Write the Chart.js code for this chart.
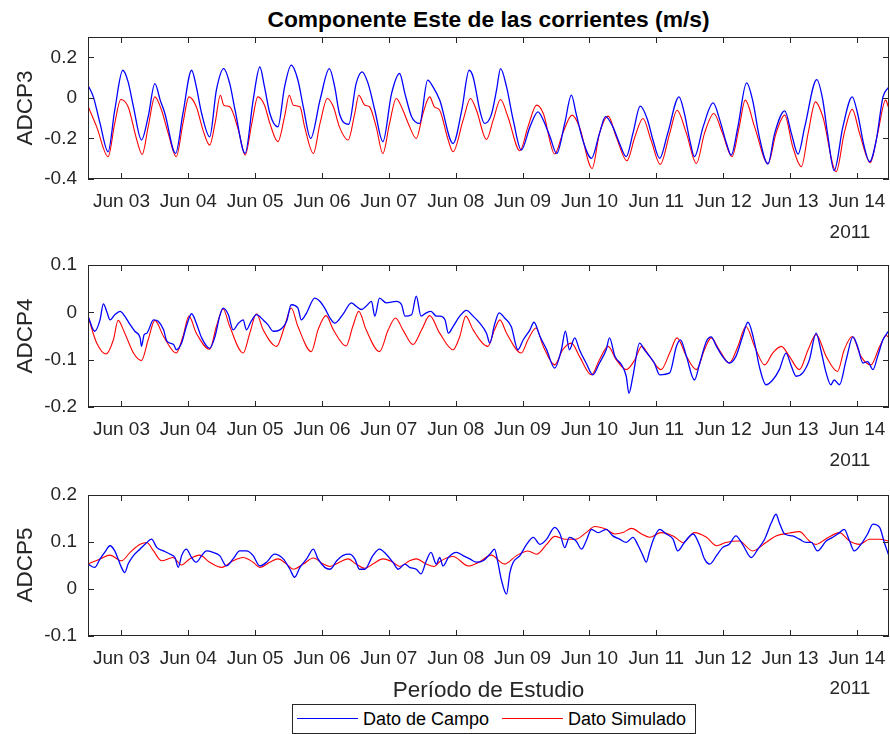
<!DOCTYPE html>
<html>
<head>
<meta charset="utf-8">
<script src="https://cdn.jsdelivr.net/npm/chart.js@4.4.1/dist/chart.umd.min.js"></script>
<style>
  body { margin: 0; background: #fff; }
  #fig { position: relative; width: 890px; height: 734px; overflow: hidden; font-family: "Liberation Sans", Arial, sans-serif; color: #262626; }
  canvas { position: absolute; left: 0; }
  .txt { position: absolute; white-space: nowrap; }
  .ylab { position: absolute; width: 160px; height: 28px; line-height: 28px; text-align: center; font-size: 22.5px; transform: rotate(-90deg); }
  .yr { position: absolute; font-size: 19px; width: 60px; text-align: center; line-height: 22px; }
  #legend { position: absolute; left: 292px; top: 704px; width: 402px; height: 28px; border: 1px solid #262626; background: #fff; font-size: 18px; }
  #legend .ln { position: absolute; top: 13px; height: 0; width: 61px; border-top: 1.3px solid; }
  #legend span { position: absolute; top: 4px; line-height: 20px; color: #000; }
</style>
</head>
<body>
<div id="fig">
  <div class="txt" style="left:88px; width:801px; top:6px; line-height:26px; text-align:center; font-weight:bold; font-size:22.8px; color:#000;">Componente Este de las corrientes (m/s)</div>

  <canvas id="c1" width="890" height="203" style="top:22px"></canvas>
  <canvas id="c2" width="890" height="203" style="top:250px"></canvas>
  <canvas id="c3" width="890" height="202" style="top:480px"></canvas>

  <div class="ylab" style="left:-55px; top:94px;">ADCP3</div>
  <div class="ylab" style="left:-55px; top:322px;">ADCP4</div>
  <div class="ylab" style="left:-55px; top:551px;">ADCP5</div>

  <div class="yr" style="left:820px; top:221px;">2011</div>
  <div class="yr" style="left:820px; top:449px;">2011</div>
  <div class="yr" style="left:820px; top:677px;">2011</div>

  <div class="txt" style="left:88px; width:801px; top:677px; line-height:26px; text-align:center; font-size:22.5px;">Período de Estudio</div>

  <div id="legend">
    <div class="ln" style="left:4px; border-color:#0000ff;"></div>
    <span style="left:70px;">Dato de Campo</span>
    <div class="ln" style="left:209px; border-color:#ff0000;"></div>
    <span style="left:275px;">Dato Simulado</span>
  </div>
</div>

<script>
// time axis: day of June 2011
const xMin = 2.5;
const xMax = 14.48;
const dayTicks = [3, 4, 5, 6, 7, 8, 9, 10, 11, 12, 13, 14];
const dayLabels = ["Jun 03", "Jun 04", "Jun 05", "Jun 06", "Jun 07", "Jun 08", "Jun 09", "Jun 10", "Jun 11", "Jun 12", "Jun 13", "Jun 14"];

const yTicks3 = [-0.4, -0.2, 0, 0.2];
const yTicks4 = [-0.2, -0.1, 0, 0.1];
const yTicks5 = [-0.1, 0, 0.1, 0.2];

// [day, m/s]
const adcp3Campo = [[2.50,0.062],[2.58,0.005],[2.68,-0.126],[2.80,-0.266],[2.90,-0.061],[3.02,0.136],[3.10,0.079],[3.18,-0.044],[3.30,-0.208],[3.40,-0.093],[3.50,0.070],[3.58,-0.011],[3.65,-0.077],[3.81,-0.274],[3.92,-0.077],[4.05,0.136],[4.12,0.054],[4.20,-0.077],[4.32,-0.192],[4.42,0.038],[4.53,0.144],[4.62,0.070],[4.70,-0.061],[4.85,-0.274],[4.97,-0.011],[5.07,0.152],[5.14,0.054],[5.22,-0.077],[5.34,-0.143],[5.44,0.054],[5.54,0.161],[5.64,0.087],[5.72,-0.044],[5.83,-0.200],[5.97,-0.011],[6.11,0.144],[6.19,0.054],[6.26,-0.077],[6.40,-0.130],[6.51,0.070],[6.60,0.128],[6.69,0.070],[6.79,-0.061],[6.91,-0.216],[7.04,0.021],[7.16,0.120],[7.24,0.021],[7.34,-0.093],[7.46,-0.126],[7.58,0.087],[7.66,0.054],[7.76,-0.011],[7.96,-0.225],[8.09,-0.061],[8.20,0.136],[8.26,0.103],[8.36,-0.061],[8.43,-0.126],[8.53,-0.085],[8.61,0.038],[8.67,0.144],[8.76,0.054],[8.86,-0.110],[8.98,-0.257],[9.11,-0.143],[9.23,-0.069],[9.31,-0.110],[9.41,-0.192],[9.51,-0.274],[9.63,-0.126],[9.73,0.013],[9.80,-0.077],[9.90,-0.208],[10.03,-0.298],[10.15,-0.175],[10.24,-0.093],[10.35,-0.143],[10.45,-0.225],[10.55,-0.290],[10.65,-0.175],[10.76,-0.041],[10.87,-0.110],[10.95,-0.208],[11.05,-0.298],[11.17,-0.175],[11.34,0.005],[11.42,-0.077],[11.50,-0.208],[11.57,-0.290],[11.70,-0.143],[11.85,-0.025],[11.95,-0.110],[12.05,-0.225],[12.12,-0.282],[12.22,-0.143],[12.35,0.074],[12.44,-0.011],[12.54,-0.192],[12.67,-0.326],[12.77,-0.175],[12.92,-0.064],[13.02,-0.175],[13.12,-0.277],[13.22,-0.143],[13.40,0.090],[13.49,-0.011],[13.56,-0.175],[13.66,-0.359],[13.79,-0.143],[13.93,0.005],[14.01,-0.077],[14.11,-0.241],[14.19,-0.315],[14.29,-0.208],[14.39,0.005],[14.47,0.051]];

const adcp3Sim = [[2.50,-0.041],[2.63,-0.143],[2.80,-0.290],[2.90,-0.126],[2.99,-0.008],[3.10,-0.044],[3.23,-0.208],[3.31,-0.279],[3.40,-0.143],[3.50,0.005],[3.60,-0.061],[3.70,-0.175],[3.82,-0.290],[3.92,-0.126],[4.01,0.005],[4.12,-0.044],[4.22,-0.159],[4.32,-0.233],[4.40,-0.126],[4.48,0.013],[4.53,-0.036],[4.62,-0.044],[4.75,-0.159],[4.85,-0.282],[4.95,-0.126],[5.04,0.005],[5.14,-0.036],[5.22,-0.126],[5.34,-0.216],[5.44,-0.093],[5.51,0.013],[5.57,-0.036],[5.67,-0.044],[5.74,-0.143],[5.87,-0.274],[5.97,-0.126],[6.08,-0.003],[6.17,-0.044],[6.26,-0.143],[6.39,-0.208],[6.49,-0.077],[6.55,0.013],[6.64,-0.036],[6.71,-0.044],[6.81,-0.143],[6.91,-0.274],[7.01,-0.126],[7.11,-0.003],[7.21,-0.061],[7.29,-0.126],[7.41,-0.200],[7.51,-0.077],[7.61,0.005],[7.68,-0.044],[7.76,-0.061],[7.88,-0.200],[7.96,-0.266],[8.11,-0.110],[8.22,-0.003],[8.31,-0.061],[8.46,-0.205],[8.56,-0.110],[8.67,-0.008],[8.78,-0.093],[8.96,-0.261],[9.08,-0.143],[9.21,-0.036],[9.31,-0.077],[9.48,-0.277],[9.60,-0.175],[9.74,-0.085],[9.85,-0.143],[10.04,-0.348],[10.15,-0.175],[10.28,-0.090],[10.40,-0.192],[10.56,-0.310],[10.68,-0.192],[10.80,-0.102],[10.92,-0.208],[11.06,-0.328],[11.20,-0.175],[11.31,-0.061],[11.45,-0.175],[11.60,-0.323],[11.72,-0.175],[11.86,-0.077],[11.99,-0.175],[12.13,-0.290],[12.24,-0.143],[12.33,-0.011],[12.47,-0.143],[12.67,-0.323],[12.79,-0.175],[12.92,-0.085],[13.04,-0.241],[13.17,-0.339],[13.27,-0.175],[13.38,-0.020],[13.49,-0.093],[13.69,-0.364],[13.81,-0.175],[13.93,-0.057],[14.04,-0.175],[14.20,-0.320],[14.31,-0.175],[14.43,-0.011],[14.47,-0.044]];

const adcp4Campo = [[2.50,-0.008],[2.60,-0.040],[2.68,-0.016],[2.73,0.018],[2.78,0.002],[2.83,-0.016],[2.90,-0.005],[2.98,0.002],[3.05,-0.008],[3.13,-0.026],[3.20,-0.040],[3.28,-0.054],[3.30,-0.072],[3.34,-0.047],[3.38,-0.044],[3.48,-0.016],[3.55,-0.019],[3.63,-0.037],[3.68,-0.061],[3.78,-0.068],[3.82,-0.079],[3.90,-0.065],[3.97,-0.030],[4.05,-0.003],[4.12,-0.023],[4.20,-0.054],[4.32,-0.076],[4.40,-0.051],[4.47,-0.008],[4.52,0.009],[4.60,-0.005],[4.67,-0.037],[4.75,-0.023],[4.82,-0.016],[4.87,-0.037],[4.94,-0.019],[5.02,-0.005],[5.12,-0.016],[5.19,-0.026],[5.27,-0.040],[5.37,-0.037],[5.47,-0.019],[5.54,0.016],[5.64,0.009],[5.69,-0.016],[5.77,-0.001],[5.89,0.030],[5.97,0.023],[6.04,0.009],[6.12,-0.012],[6.19,-0.023],[6.31,-0.005],[6.44,0.020],[6.51,0.013],[6.59,0.006],[6.66,0.013],[6.74,0.023],[6.79,-0.008],[6.86,0.030],[6.96,0.020],[7.11,0.023],[7.19,0.016],[7.24,-0.008],[7.34,-0.005],[7.41,0.034],[7.48,-0.008],[7.56,-0.001],[7.63,0.002],[7.71,-0.008],[7.76,-0.008],[7.84,-0.016],[7.89,-0.044],[7.96,-0.030],[8.06,-0.008],[8.16,0.004],[8.26,-0.008],[8.36,-0.023],[8.46,-0.044],[8.51,-0.065],[8.58,-0.026],[8.65,-0.001],[8.73,-0.012],[8.83,-0.030],[8.93,-0.079],[9.01,-0.058],[9.11,-0.037],[9.17,-0.021],[9.26,-0.051],[9.36,-0.079],[9.48,-0.118],[9.58,-0.079],[9.64,-0.040],[9.70,-0.079],[9.78,-0.054],[9.85,-0.079],[9.95,-0.107],[10.05,-0.132],[10.15,-0.107],[10.25,-0.079],[10.30,-0.054],[10.38,-0.093],[10.48,-0.111],[10.55,-0.135],[10.59,-0.171],[10.65,-0.135],[10.75,-0.065],[10.82,-0.079],[10.90,-0.093],[10.97,-0.107],[11.05,-0.132],[11.20,-0.128],[11.30,-0.072],[11.36,-0.058],[11.45,-0.093],[11.57,-0.143],[11.65,-0.107],[11.75,-0.061],[11.82,-0.052],[11.90,-0.072],[11.99,-0.093],[12.09,-0.107],[12.19,-0.093],[12.29,-0.051],[12.37,-0.021],[12.47,-0.065],[12.54,-0.114],[12.64,-0.153],[12.74,-0.143],[12.84,-0.121],[12.94,-0.086],[13.02,-0.114],[13.09,-0.135],[13.19,-0.128],[13.29,-0.100],[13.39,-0.044],[13.46,-0.079],[13.54,-0.128],[13.61,-0.153],[13.66,-0.143],[13.74,-0.153],[13.84,-0.100],[13.94,-0.052],[14.01,-0.072],[14.09,-0.107],[14.16,-0.104],[14.24,-0.121],[14.31,-0.093],[14.39,-0.058],[14.47,-0.040]];

const adcp4Sim = [[2.50,-0.008],[2.63,-0.065],[2.77,-0.088],[2.88,-0.058],[2.95,-0.017],[3.05,-0.044],[3.18,-0.086],[3.30,-0.102],[3.40,-0.058],[3.50,-0.017],[3.63,-0.051],[3.82,-0.086],[3.92,-0.051],[4.01,-0.008],[4.12,-0.044],[4.32,-0.078],[4.42,-0.030],[4.52,0.007],[4.62,-0.030],[4.82,-0.086],[4.92,-0.044],[5.02,-0.003],[5.12,-0.037],[5.32,-0.072],[5.44,-0.030],[5.54,0.009],[5.64,-0.030],[5.84,-0.083],[5.94,-0.037],[6.06,-0.007],[6.17,-0.037],[6.36,-0.071],[6.46,-0.030],[6.55,0.002],[6.66,-0.037],[6.86,-0.083],[6.99,-0.037],[7.10,-0.012],[7.21,-0.037],[7.36,-0.068],[7.49,-0.037],[7.61,-0.007],[7.76,-0.044],[7.96,-0.079],[8.06,-0.051],[8.15,-0.008],[8.26,-0.037],[8.48,-0.072],[8.58,-0.037],[8.66,-0.016],[8.76,-0.044],[8.98,-0.086],[9.08,-0.058],[9.20,-0.033],[9.31,-0.072],[9.48,-0.111],[9.60,-0.079],[9.73,-0.065],[9.85,-0.093],[10.03,-0.132],[10.15,-0.100],[10.28,-0.072],[10.40,-0.100],[10.55,-0.121],[10.68,-0.100],[10.78,-0.072],[10.90,-0.093],[11.07,-0.121],[11.20,-0.086],[11.31,-0.054],[11.45,-0.093],[11.60,-0.121],[11.72,-0.079],[11.82,-0.054],[11.94,-0.079],[12.09,-0.107],[12.22,-0.072],[12.34,-0.030],[12.47,-0.072],[12.62,-0.111],[12.74,-0.086],[12.87,-0.072],[12.99,-0.093],[13.14,-0.121],[13.27,-0.079],[13.39,-0.047],[13.54,-0.093],[13.71,-0.125],[13.81,-0.079],[13.93,-0.051],[14.06,-0.093],[14.21,-0.111],[14.34,-0.072],[14.44,-0.049],[14.47,-0.052]];

const adcp5Campo = [[2.50,0.053],[2.60,0.046],[2.68,0.064],[2.75,0.078],[2.83,0.092],[2.90,0.081],[2.95,0.064],[3.00,0.046],[3.05,0.035],[3.10,0.053],[3.18,0.071],[3.28,0.085],[3.38,0.099],[3.45,0.106],[3.53,0.088],[3.63,0.081],[3.73,0.074],[3.80,0.067],[3.85,0.046],[3.90,0.071],[3.97,0.085],[4.05,0.067],[4.12,0.057],[4.20,0.071],[4.27,0.081],[4.37,0.078],[4.47,0.071],[4.57,0.049],[4.67,0.064],[4.77,0.081],[4.87,0.081],[4.97,0.071],[5.07,0.049],[5.17,0.057],[5.29,0.074],[5.42,0.064],[5.52,0.042],[5.59,0.025],[5.67,0.046],[5.77,0.064],[5.87,0.085],[5.94,0.064],[6.04,0.046],[6.12,0.042],[6.22,0.060],[6.31,0.071],[6.41,0.074],[6.49,0.064],[6.56,0.042],[6.64,0.042],[6.76,0.071],[6.86,0.085],[6.96,0.074],[7.06,0.057],[7.14,0.042],[7.24,0.053],[7.31,0.046],[7.41,0.042],[7.48,0.032],[7.56,0.060],[7.63,0.078],[7.71,0.053],[7.76,0.067],[7.81,0.049],[7.89,0.067],[8.01,0.078],[8.11,0.071],[8.21,0.064],[8.31,0.057],[8.41,0.060],[8.51,0.074],[8.58,0.085],[8.63,0.057],[8.68,0.021],[8.76,-0.011],[8.81,0.035],[8.86,0.057],[8.96,0.071],[9.06,0.095],[9.16,0.110],[9.26,0.095],[9.36,0.106],[9.48,0.131],[9.56,0.117],[9.63,0.088],[9.70,0.110],[9.80,0.102],[9.88,0.085],[9.95,0.102],[10.03,0.127],[10.13,0.120],[10.25,0.127],[10.35,0.113],[10.45,0.106],[10.55,0.099],[10.65,0.110],[10.73,0.092],[10.80,0.071],[10.85,0.057],[10.90,0.081],[10.97,0.110],[11.05,0.127],[11.15,0.117],[11.25,0.106],[11.32,0.081],[11.42,0.099],[11.55,0.117],[11.65,0.092],[11.72,0.064],[11.80,0.053],[11.90,0.071],[11.99,0.088],[12.09,0.095],[12.19,0.113],[12.29,0.095],[12.42,0.067],[12.52,0.085],[12.62,0.106],[12.72,0.141],[12.79,0.159],[12.84,0.141],[12.92,0.117],[13.04,0.113],[13.14,0.106],[13.24,0.099],[13.32,0.099],[13.41,0.081],[13.54,0.102],[13.64,0.110],[13.74,0.120],[13.81,0.127],[13.89,0.102],[13.96,0.081],[14.06,0.095],[14.16,0.117],[14.24,0.138],[14.34,0.131],[14.41,0.099],[14.47,0.074]];

const adcp5Sim = [[2.50,0.053],[2.68,0.064],[2.83,0.072],[3.00,0.060],[3.13,0.078],[3.28,0.095],[3.38,0.099],[3.48,0.081],[3.60,0.060],[3.77,0.067],[3.90,0.051],[4.02,0.064],[4.17,0.072],[4.32,0.057],[4.50,0.046],[4.67,0.060],[4.82,0.067],[4.97,0.057],[5.07,0.046],[5.22,0.057],[5.34,0.064],[5.47,0.053],[5.57,0.042],[5.72,0.053],[5.87,0.066],[6.02,0.053],[6.12,0.048],[6.26,0.057],[6.39,0.064],[6.51,0.053],[6.64,0.044],[6.76,0.053],[6.91,0.064],[7.06,0.057],[7.16,0.048],[7.31,0.060],[7.41,0.064],[7.56,0.053],[7.68,0.048],[7.76,0.058],[7.96,0.069],[8.19,0.049],[8.36,0.058],[8.53,0.072],[8.73,0.053],[8.91,0.071],[9.08,0.081],[9.21,0.074],[9.36,0.095],[9.48,0.112],[9.63,0.106],[9.80,0.106],[9.95,0.120],[10.08,0.133],[10.25,0.127],[10.38,0.117],[10.50,0.120],[10.63,0.129],[10.78,0.117],[10.90,0.110],[11.07,0.120],[11.25,0.113],[11.40,0.099],[11.57,0.120],[11.75,0.110],[11.90,0.092],[12.04,0.099],[12.24,0.102],[12.44,0.081],[12.64,0.099],[12.79,0.113],[12.99,0.119],[13.14,0.122],[13.29,0.102],[13.39,0.095],[13.54,0.107],[13.74,0.120],[13.89,0.102],[14.04,0.095],[14.19,0.106],[14.34,0.106],[14.47,0.102]];

const axisColor = "#262626";
Chart.defaults.font.family = "'Liberation Sans', Arial, sans-serif";

// MATLAB-style box with inward ticks on all four sides
const boxTicks = {
  id: "boxTicks",
  afterDraw(chart) {
    const { ctx, chartArea: a, scales: { x, y } } = chart;
    const len = 6;
    ctx.save();
    ctx.strokeStyle = axisColor;
    ctx.lineWidth = 1;
    ctx.beginPath();
    x.ticks.forEach(t => {
      const px = Math.round(x.getPixelForValue(t.value)) + 0.5;
      ctx.moveTo(px, a.bottom); ctx.lineTo(px, a.bottom - len);
      ctx.moveTo(px, a.top); ctx.lineTo(px, a.top + len);
    });
    y.ticks.forEach(t => {
      const py = Math.round(y.getPixelForValue(t.value)) + 0.5;
      ctx.moveTo(a.left, py); ctx.lineTo(a.left + len, py);
      ctx.moveTo(a.right, py); ctx.lineTo(a.right - len, py);
    });
    ctx.stroke();
    ctx.strokeRect(Math.round(a.left) + 0.5, Math.round(a.top) + 0.5,
      Math.round(a.right - a.left) - 1, Math.round(a.bottom - a.top) - 1);
    ctx.restore();
  }
};

function toPoints(arr) {
  return arr.map(p => ({ x: p[0], y: p[1] }));
}

function makePanel(id, campo, sim, yMin, yMax, yTicks, xHeight) {
  return new Chart(document.getElementById(id), {
    type: "line",
    data: {
      datasets: [
        { label: "Dato de Campo", data: toPoints(campo), borderColor: "#0000ff", borderWidth: 1.3, pointRadius: 0, cubicInterpolationMode: "monotone" },
        { label: "Dato Simulado", data: toPoints(sim), borderColor: "#ff0000", borderWidth: 1.1, pointRadius: 0, cubicInterpolationMode: "monotone" }
      ]
    },
    options: {
      responsive: false,
      animation: false,
      devicePixelRatio: 1,
      layout: { padding: { top: 15, right: 1, left: 0, bottom: 0 } },
      plugins: { legend: { display: false }, tooltip: { enabled: false } },
      scales: {
        x: {
          type: "linear", min: xMin, max: xMax,
          grid: { display: false, drawTicks: false },
          border: { display: false },
          afterBuildTicks: s => { s.ticks = dayTicks.map(v => ({ value: v })); },
          afterFit: s => { s.height = xHeight; s.paddingLeft = 0; s.paddingRight = 0; },
          ticks: {
            padding: 11, color: axisColor, font: { size: 19 }, maxRotation: 0, autoSkip: false,
            callback: v => dayLabels[dayTicks.indexOf(v)]
          }
        },
        y: {
          min: yMin, max: yMax,
          grid: { display: false, drawTicks: false },
          border: { display: false },
          afterBuildTicks: s => { s.ticks = yTicks.map(v => ({ value: v })); },
          afterFit: s => { s.width = 88; s.paddingTop = 0; s.paddingBottom = 0; },
          ticks: {
            padding: 11, color: axisColor, font: { size: 19 },
            callback: v => (v === 0 ? "0" : v.toFixed(1))
          }
        }
      }
    },
    plugins: [boxTicks]
  });
}

makePanel("c1", adcp3Campo, adcp3Sim, -0.4, 0.3, yTicks3, 46);
makePanel("c2", adcp4Campo, adcp4Sim, -0.2, 0.1, yTicks4, 46);
makePanel("c3", adcp5Campo, adcp5Sim, -0.1, 0.2, yTicks5, 46);
</script>
</body>
</html>
